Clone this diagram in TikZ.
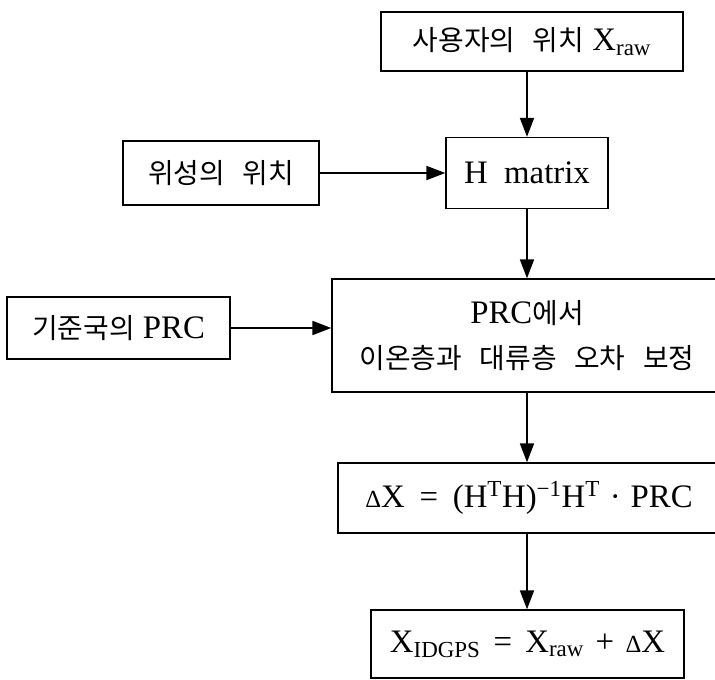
\documentclass[tikz,border=0pt]{standalone}
\usepackage{fontspec}
\setmainfont{Liberation Serif}
\newfontfamily\kr[Scale=0.85,WordSpace=2.8]{Noto Sans CJK KR}
\usetikzlibrary{arrows.meta}
\begin{document}
\begin{tikzpicture}[x=0.03cm,y=-0.03cm,
  box/.style={draw, line width=1.3pt, inner sep=0pt, align=center,
    font=\fontsize{28}{36}\selectfont},
  arr/.style={line width=1.2pt, -{Triangle[length=16pt,width=12pt]}}]
\useasboundingbox (0,0) rectangle (715,680);
\node[box, minimum width=302*0.03cm, minimum height=59*0.03cm] (user) at (532,41.5)
  {{\kr 사용자의 위치} X\textsubscript{raw}};
\node[box, minimum width=196*0.03cm, minimum height=64*0.03cm] (sat) at (221,173)
  {\kr 위성의 위치};
\node[box, minimum width=162*0.03cm, minimum height=71*0.03cm] (H) at (527,173)
  {H\hspace{0.25em} matrix};
\node[box, minimum width=223*0.03cm, minimum height=62*0.03cm] (ref) at (118.5,328)
  {{\kr 기준국의} PRC};
\node[box, minimum width=390*0.03cm, minimum height=113*0.03cm] (prc) at (527,335.5)
  {PRC{\kr 에서}\\[2pt]{\kr 이온층과 대류층 오차 보정}};
\node[box, minimum width=382*0.03cm, minimum height=70*0.03cm] (dx) at (529,498)
  {{\scalebox{0.75}{Δ}}X\hspace{0.45em}=\hspace{0.45em}(H\textsuperscript{T}H)\textsuperscript{−1}H\textsuperscript{T}\hspace{0.3em}·\hspace{0.3em}PRC};
\node[box, minimum width=313*0.03cm, minimum height=68*0.03cm] (out) at (527.5,644)
  {X\textsubscript{IDGPS}\hspace{0.4em}=\hspace{0.4em}X\textsubscript{raw}\hspace{0.35em}+\hspace{0.35em}{\scalebox{0.75}{Δ}}X};
\draw[arr] (H.north |- user.south) -- (H.north);
\draw[arr] (sat.east) -- (sat.east -| H.west);
\draw[arr] (H.south) -- (H.south |- prc.north);
\draw[arr] (ref.east) -- (ref.east -| prc.west);
\draw[arr] (prc.south) -- (prc.south |- dx.north);
\draw[arr] (prc.south |- dx.south) -- (prc.south |- out.north);
\end{tikzpicture}
\end{document}
